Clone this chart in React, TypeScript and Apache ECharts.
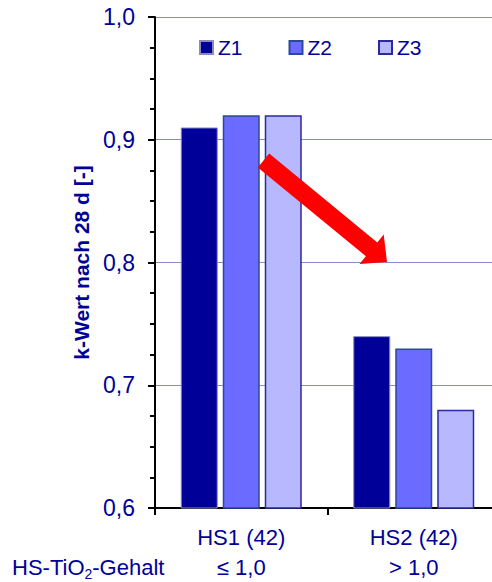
import React, { useEffect, useRef } from "react";
import * as echarts from "echarts";

// k-values after 28 days for two cement groups, three measurements each
const categories = ["HS1 (42)", "HS2 (42)"];
const tioContent = ["≤ 1,0", "> 1,0"];
const seriesNames = ["Z1", "Z2", "Z3"];
const z1Values = [0.91, 0.74];
const z2Values = [0.92, 0.73];
const z3Values = [0.92, 0.68];

const FONT = "'Liberation Sans', Arial, sans-serif";
const TEXT = "#000099";

function measure(text: string, size: number): number {
  const ctx = document.createElement("canvas").getContext("2d");
  if (!ctx) return text.length * size * 0.55;
  ctx.font = `${size}px ${FONT}`;
  return ctx.measureText(text).width;
}

export default function App() {
  const ref = useRef<HTMLDivElement>(null);

  useEffect(() => {
    if (!ref.current) return;
    const chart = echarts.init(ref.current, null, { renderer: "svg" });

    const barStyles = [
      { color: "#000099", borderColor: "#8a8ac0", borderWidth: 1 },
      { color: "#6b6bff", borderColor: "#2b4a96", borderWidth: 1.5 },
      { color: "#b8b8ff", borderColor: "#2a2aa0", borderWidth: 1.5 },
    ];
    const values = [z1Values, z2Values, z3Values];

    // "HS-TiO₂-Gehalt" row caption, built from three pieces for the subscript
    const capX = 12;
    const capY = 567;
    const w1 = measure("HS-TiO", 22);
    const w2 = measure("2", 14);
    const caption = [
      { type: "text", x: capX, y: capY, style: { text: "HS-TiO", fontSize: 22, fontFamily: FONT, fill: TEXT, verticalAlign: "middle" } },
      { type: "text", x: capX + w1, y: capY + 7, style: { text: "2", fontSize: 14, fontFamily: FONT, fill: TEXT, verticalAlign: "middle" } },
      { type: "text", x: capX + w1 + w2, y: capY, style: { text: "-Gehalt", fontSize: 22, fontFamily: FONT, fill: TEXT, verticalAlign: "middle" } },
    ];

    chart.setOption({
      animation: false,
      textStyle: { fontFamily: FONT },
      grid: { left: 155, right: -8, top: 17, bottom: 74, outerBoundsMode: "none", containLabel: false },
      legend: {
        left: 194,
        top: 32,
        icon: "rect",
        itemWidth: 13,
        itemHeight: 13,
        itemGap: 46,
        textStyle: { color: TEXT, fontSize: 21, fontFamily: FONT },
        data: seriesNames,
      },
      xAxis: {
        type: "category",
        data: categories,
        axisLine: { lineStyle: { color: "#000", width: 2 } },
        axisTick: { show: true, alignWithLabel: false, length: 7, lineStyle: { color: "#000", width: 2 } },
        axisLabel: {
          margin: 14,
          interval: 0,
          formatter: (v: string, i: number) => `{a|${v}}\n{a|${tioContent[i]}}`,
          rich: {
            a: { color: TEXT, fontSize: 22, lineHeight: 30, fontFamily: FONT },
          },
        },
      },
      yAxis: {
        type: "value",
        min: 0.6,
        max: 1.0,
        interval: 0.1,
        name: "k-Wert nach 28 d [-]",
        nameLocation: "middle",
        nameRotate: 90,
        nameGap: 48,
        nameTextStyle: { color: TEXT, fontSize: 21, fontWeight: "bold", fontFamily: FONT },
        axisLine: { show: true, lineStyle: { color: "#000", width: 2 } },
        axisTick: { show: true, length: 7, lineStyle: { color: "#000", width: 2 } },
        minorTick: { show: true, splitNumber: 4, length: 5, lineStyle: { color: "#000", width: 2 } },
        splitLine: { show: true, lineStyle: { color: "#8c8cc4", width: 1.2 } },
        axisLabel: {
          margin: 20,
          color: TEXT,
          fontSize: 23,
          fontFamily: FONT,
          formatter: (v: number) => v.toFixed(1).replace(".", ","),
        },
      },
      series: seriesNames.map((name, i) => ({
        name,
        type: "bar",
        data: values[i],
        barWidth: 37,
        barGap: "13.5%",
        itemStyle: barStyles[i],
      })),
      graphic: [
        ...caption,
        {
          type: "polygon",
          shape: {
            points: [
              [257.8, 167.4],
              [269.2, 153.6],
              [377.3, 242.4],
              [383.7, 234.6],
              [387, 262],
              [359.5, 264.0],
              [365.9, 256.2],
            ],
          },
          style: { fill: "#ff0000" },
          z: 100,
        },
      ],
    });

    return () => chart.dispose();
  }, []);

  return <div ref={ref} style={{ width: 492, height: 582, position: "absolute", left: 0, top: 0 }} />;
}
